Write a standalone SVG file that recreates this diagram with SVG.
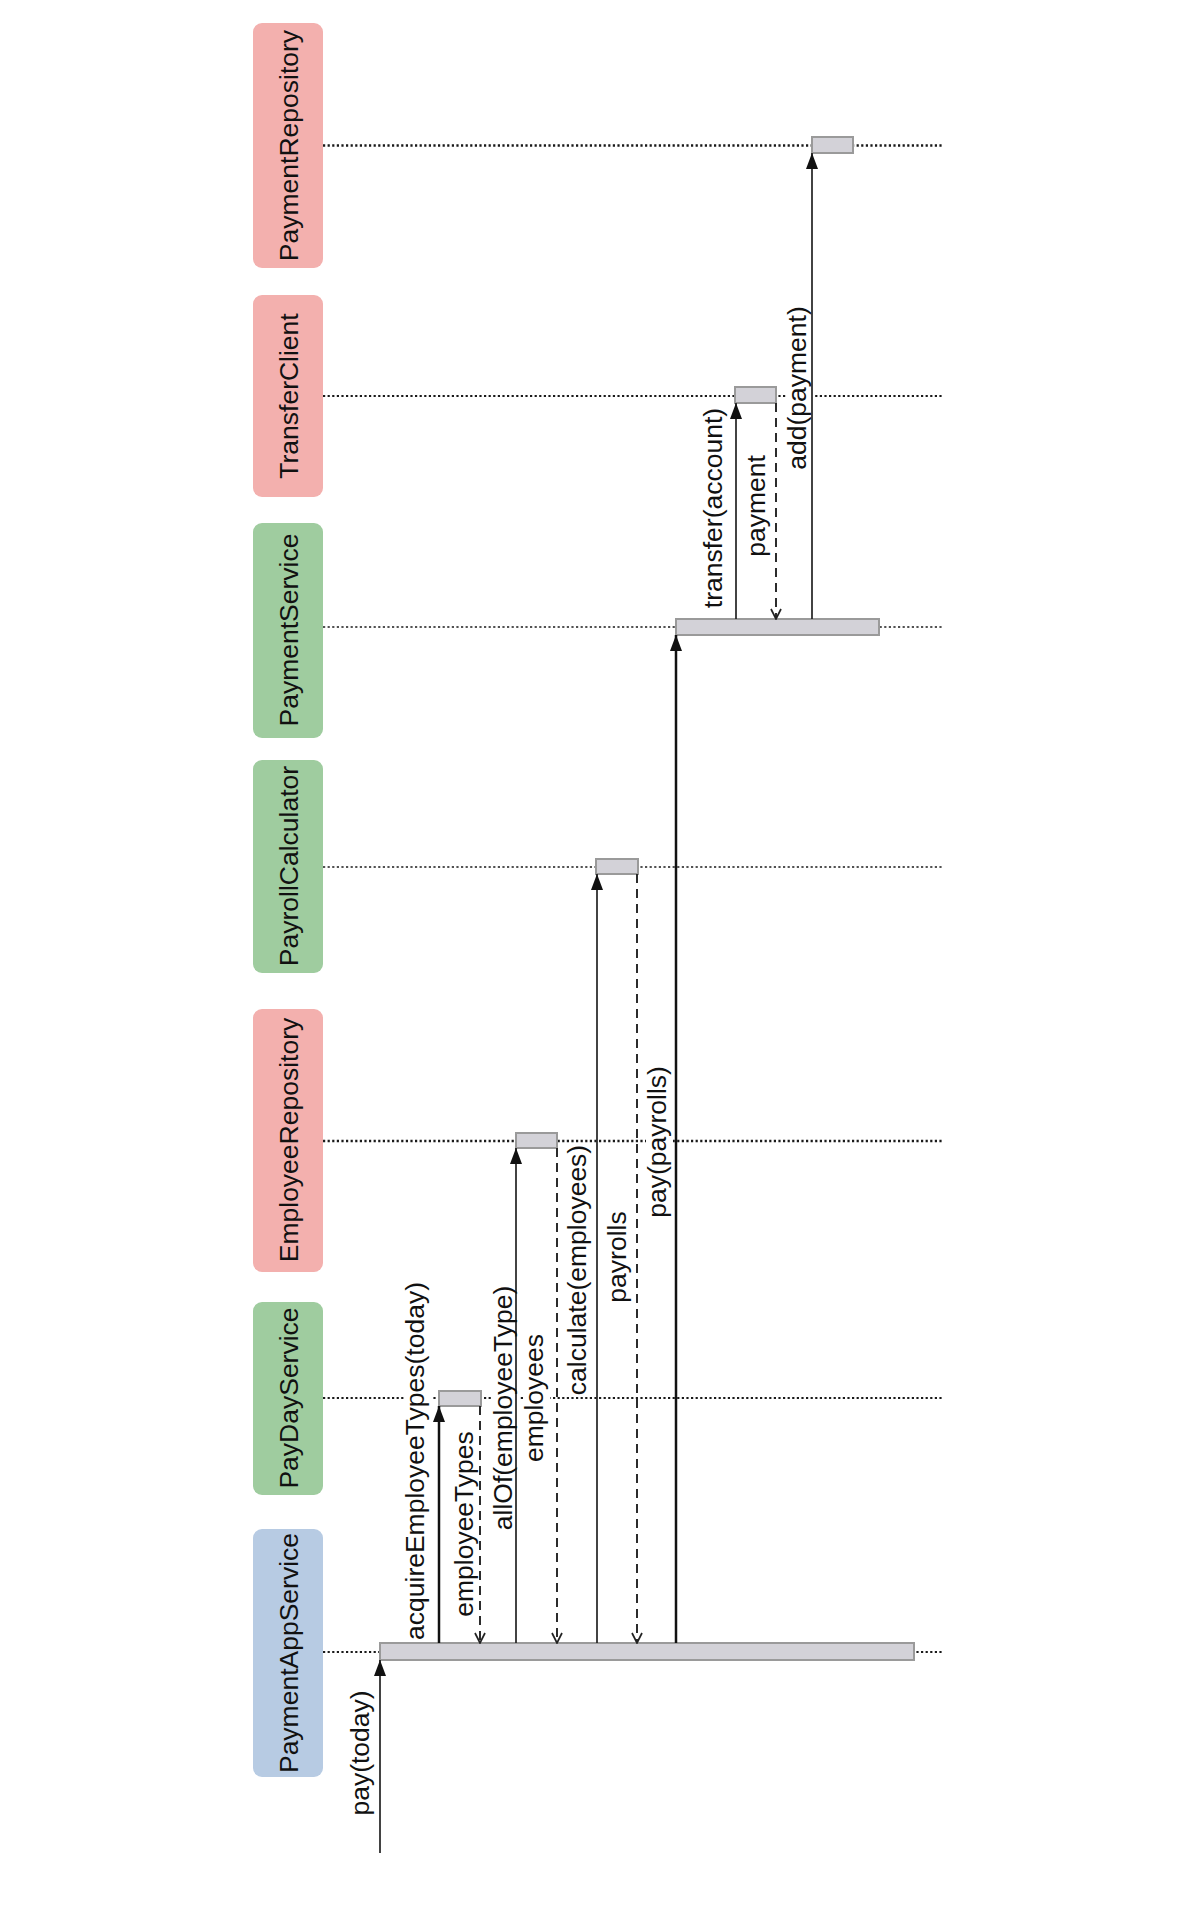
<svg xmlns="http://www.w3.org/2000/svg" width="1186" height="1924" viewBox="0 0 1186 1924">
<style>
.node-blue{fill:#b7cbe3}
.node-green{fill:#9fcc9f}
.node-red{fill:#f3b0ae}
.label{font-family:"Liberation Sans",Arial,sans-serif;font-size:26.5px;fill:#111;text-anchor:middle}
.bg{fill:#fff}
.life{stroke:#1a1a1a;stroke-dasharray:2.2,2.4;fill:none}
.act{fill:#d3d2d8;stroke:#9a9a9a;stroke-width:2}
.msg{stroke:#222;stroke-width:1.7;fill:none}
.msgb{stroke:#111;stroke-width:2.5;fill:none}
.ret{stroke:#222;stroke-width:1.9;stroke-dasharray:9,6;fill:none}
</style>
<defs>
<marker id="filled" markerUnits="userSpaceOnUse" markerWidth="16" markerHeight="12" refX="16" refY="6" orient="auto">
<path d="M0,0 L16,6 L0,12 z" fill="#111"/>
</marker>
<marker id="open" markerUnits="userSpaceOnUse" markerWidth="12" markerHeight="12" refX="11" refY="6" orient="auto">
<path d="M1,1 L11,6 L1,11" fill="none" stroke="#222" stroke-width="1.7"/>
</marker>
</defs>
<rect width="1186" height="1924" fill="#fff"/>

<g id="lifelines">
<line class="life" x1="323" y1="145.5" x2="943" y2="145.5" stroke-width="2.4"/>
<line class="life" x1="323" y1="396" x2="943" y2="396" stroke-width="2"/>
<line class="life" x1="323" y1="627" x2="943" y2="627" stroke-width="1.5"/>
<line class="life" x1="323" y1="867" x2="943" y2="867" stroke-width="1.5"/>
<line class="life" x1="323" y1="1141" x2="943" y2="1141" stroke-width="2.4"/>
<line class="life" x1="323" y1="1398" x2="943" y2="1398" stroke-width="2"/>
<line class="life" x1="323" y1="1652" x2="943" y2="1652" stroke-width="2"/>
</g>

<g id="label-backgrounds">
<rect class="bg" x="404" y="1284" width="27" height="356"/>
<rect class="bg" x="492" y="1286" width="27" height="245"/>
<rect class="bg" x="523" y="1333" width="27" height="130"/>
<rect class="bg" x="646" y="1066" width="27" height="152"/>
<rect class="bg" x="786" y="306" width="27" height="164"/>
</g>

<g id="PaymentRepository">
<rect class="node-red" x="253" y="23" width="70" height="245" rx="9"/>
<text class="label" transform="translate(298,145.5) rotate(-90)">PaymentRepository</text>
<rect class="act" x="812" y="137" width="41" height="16"/>
</g>
<g id="TransferClient">
<rect class="node-red" x="253" y="295" width="70" height="202" rx="9"/>
<text class="label" transform="translate(298,396) rotate(-90)">TransferClient</text>
<rect class="act" x="735" y="387" width="41" height="16"/>
</g>
<g id="PaymentService">
<rect class="node-green" x="253" y="523" width="70" height="215" rx="9"/>
<text class="label" transform="translate(298,630) rotate(-90)">PaymentService</text>
<rect class="act" x="676" y="619" width="203" height="16"/>
</g>
<g id="PayrollCalculator">
<rect class="node-green" x="253" y="760" width="70" height="213" rx="9"/>
<text class="label" transform="translate(298,866) rotate(-90)">PayrollCalculator</text>
<rect class="act" x="596" y="859" width="42" height="15"/>
</g>
<g id="EmployeeRepository">
<rect class="node-red" x="253" y="1009" width="70" height="263" rx="9"/>
<text class="label" transform="translate(298,1140) rotate(-90)">EmployeeRepository</text>
<rect class="act" x="516" y="1133" width="41" height="15"/>
</g>
<g id="PayDayService">
<rect class="node-green" x="253" y="1302" width="70" height="193" rx="9"/>
<text class="label" transform="translate(298,1398) rotate(-90)">PayDayService</text>
<rect class="act" x="439" y="1391" width="42" height="15"/>
</g>
<g id="PaymentAppService">
<rect class="node-blue" x="253" y="1529" width="70" height="248" rx="9"/>
<text class="label" transform="translate(298,1653) rotate(-90)">PaymentAppService</text>
<rect class="act" x="380" y="1643" width="534" height="17"/>
</g>

<g id="connectors">
<line class="msg" x1="380" y1="1853" x2="380" y2="1660" marker-end="url(#filled)"/>
<line class="msgb" x1="439" y1="1643" x2="439" y2="1406" marker-end="url(#filled)"/>
<line class="ret" x1="480" y1="1406" x2="480" y2="1643" marker-end="url(#open)"/>
<line class="msg" x1="516" y1="1643" x2="516" y2="1148" marker-end="url(#filled)"/>
<line class="ret" x1="557" y1="1148" x2="557" y2="1643" marker-end="url(#open)"/>
<line class="msg" x1="597" y1="1643" x2="597" y2="874" marker-end="url(#filled)"/>
<line class="ret" x1="637" y1="874" x2="637" y2="1643" marker-end="url(#open)"/>
<line class="msgb" x1="676" y1="1643" x2="676" y2="635" marker-end="url(#filled)"/>
<line class="msg" x1="736" y1="619" x2="736" y2="403" marker-end="url(#filled)"/>
<line class="ret" x1="776" y1="403" x2="776" y2="619" marker-end="url(#open)"/>
<line class="msg" x1="812" y1="619" x2="812" y2="153" marker-end="url(#filled)"/>

<text class="label" transform="translate(369,1753) rotate(-90)">pay(today)</text>
<text class="label" transform="translate(424,1461) rotate(-90)">acquireEmployeeTypes(today)</text>
<text class="label" transform="translate(473,1524) rotate(-90)">employeeTypes</text>
<text class="label" transform="translate(512,1408) rotate(-90)">allOf(employeeType)</text>
<text class="label" transform="translate(543,1398) rotate(-90)">employees</text>
<text class="label" transform="translate(586,1270) rotate(-90)">calculate(employees)</text>
<text class="label" transform="translate(626,1257) rotate(-90)">payrolls</text>
<text class="label" transform="translate(666,1142) rotate(-90)">pay(payrolls)</text>
<text class="label" transform="translate(722,508) rotate(-90)">transfer(account)</text>
<text class="label" transform="translate(765,506) rotate(-90)">payment</text>
<text class="label" transform="translate(806,388) rotate(-90)">add(payment)</text>
</g>
</svg>
